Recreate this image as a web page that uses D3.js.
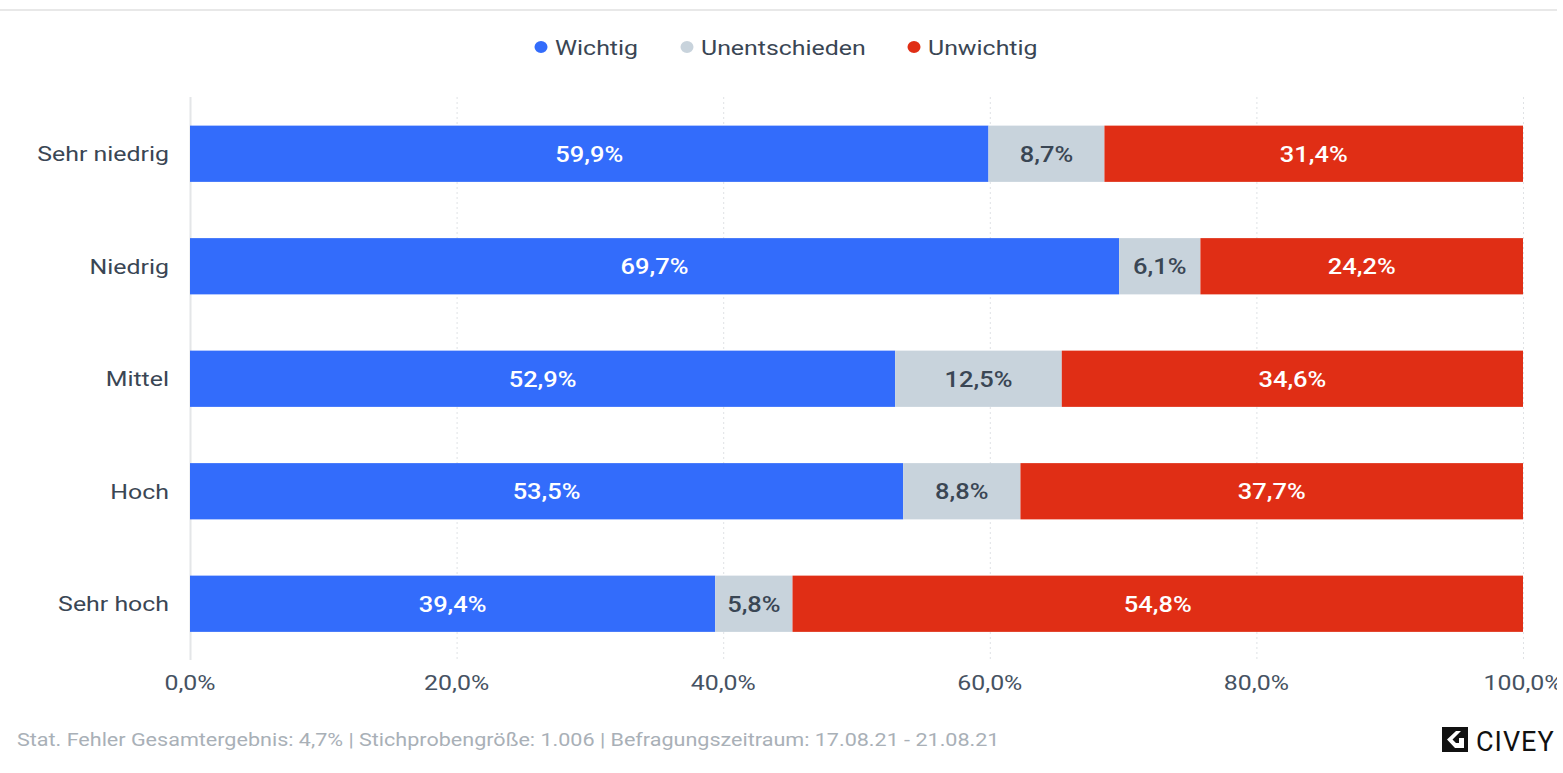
<!DOCTYPE html>
<html>
<head>
<meta charset="utf-8">
<script src="https://cdn.jsdelivr.net/npm/d3@7"></script>
<style>
  body { margin: 0; background: #fff; overflow: hidden; }
  svg { display: block; font-family: Roboto, "Noto Sans", sans-serif; }
</style>
</head>
<body>
<svg id="chart"></svg>
<script>
var categories = ["Sehr niedrig", "Niedrig", "Mittel", "Hoch", "Sehr hoch"];
var seriesNames = ["Wichtig", "Unentschieden", "Unwichtig"];
var wichtig = [59.9, 69.7, 52.9, 53.5, 39.4];
var unentschieden = [8.7, 6.1, 12.5, 8.8, 5.8];
var unwichtig = [31.4, 24.2, 34.6, 37.7, 54.8];
var xTicks = [0, 20, 40, 60, 80, 100];

var colors = ["#336cfb", "#c8d3dc", "#e02e15"];
var labelColors = ["#ffffff", "#3a4654", "#ffffff"];
var sx = 1.185; // text is a bit wide in the original

var svgWidth = 1557, svgHeight = 773;
var svg = d3.select("#chart").attr("width", svgWidth).attr("height", svgHeight);

var fmt = function(v) { return v.toFixed(1).replace(".", ",") + "%"; };
function place(x, y) { return "translate(" + x + "," + y + ") scale(" + sx + ",1)"; }

// top rule
svg.append("rect").attr("x", 0).attr("y", 9).attr("width", 1563).attr("height", 2).attr("fill", "#e8e8e8");

var x = d3.scaleLinear().domain([0, 100]).range([190, 1523]);
var y = d3.scaleBand().domain(categories).range([97.5, 660]).paddingInner(0.5).paddingOuter(0.25);

// grid
svg.selectAll(".grid").data(xTicks).enter().append("line")
  .attr("x1", function(d) { return x(d) + 0.5; })
  .attr("x2", function(d) { return x(d) + 0.5; })
  .attr("y1", 97).attr("y2", 660)
  .attr("stroke", function(d) { return d === 0 ? "#e4e6e8" : "#dfe2e5"; })
  .attr("stroke-width", function(d) { return d === 0 ? 2 : 1; })
  .attr("stroke-dasharray", function(d) { return d === 0 ? null : "2,3"; });

var rows = categories.map(function(c, i) {
  return { cat: c, vals: [wichtig[i], unentschieden[i], unwichtig[i]] };
});

var segs = [];
rows.forEach(function(r) {
  var acc = 0;
  r.vals.forEach(function(v, k) {
    segs.push({ cat: r.cat, k: k, v: v, x0: acc, x1: acc + v });
    acc += v;
  });
});

svg.selectAll(".seg").data(segs).enter().append("rect")
  .attr("x", function(d) { return x(d.x0); })
  .attr("width", function(d) { return x(d.x1) - x(d.x0); })
  .attr("y", function(d) { return y(d.cat); })
  .attr("height", y.bandwidth())
  .attr("fill", function(d) { return colors[d.k]; });

svg.selectAll(".lbl").data(segs).enter().append("text")
  .attr("transform", function(d) { return place((x(d.x0) + x(d.x1)) / 2, y(d.cat) + y.bandwidth() / 2); })
  .attr("dy", "0.36em")
  .attr("text-anchor", "middle")
  .attr("font-size", 21.5).attr("font-weight", 500)
  .attr("fill", function(d) { return labelColors[d.k]; })
  .text(function(d) { return fmt(d.v); });

// y axis labels
svg.selectAll(".ylab").data(categories).enter().append("text")
  .attr("transform", function(d) { return place(169, y(d) + y.bandwidth() / 2); })
  .attr("dy", "0.36em")
  .attr("text-anchor", "end")
  .attr("font-size", 21).attr("fill", "#3a4654")
  .text(function(d) { return d; });

// x axis labels
svg.selectAll(".xlab").data(xTicks).enter().append("text")
  .attr("transform", function(d) { return place(x(d), 690); })
  .attr("text-anchor", "middle")
  .attr("font-size", 21).attr("fill", "#465262")
  .text(function(d) { return fmt(d); });

// legend
var legendX = [541, 687, 914];
seriesNames.forEach(function(n, i) {
  var g = svg.append("g");
  g.append("ellipse").attr("cx", legendX[i]).attr("cy", 47).attr("rx", 6.5).attr("ry", 6).attr("fill", colors[i]);
  g.append("text").attr("transform", place(legendX[i] + 14, 47)).attr("dy", "0.36em")
    .attr("font-size", 21).attr("fill", "#3a4654").text(n);
});

// footer
svg.append("text").attr("transform", place(17, 746)).attr("font-size", 18.2).attr("fill", "#a9b0b7")
  .text("Stat. Fehler Gesamtergebnis: 4,7% | Stichprobengröße: 1.006 | Befragungszeitraum: 17.08.21 - 21.08.21");

// logo
var logo = svg.append("g").attr("transform", "translate(1442,727)");
logo.append("rect").attr("width", 26).attr("height", 25).attr("fill", "#111");
logo.append("path").attr("d", "M14,4 L5,12.5 L13,21 L22,21 L22,11 L17,11 L17,16 L14,16 L10.5,12.5 L19,4 Z").attr("fill", "#fff");
svg.append("text").attr("x", 1476).attr("y", 751).attr("font-size", 27).attr("fill", "#111")
  .attr("font-family", "Roboto, sans-serif").attr("letter-spacing", 1).text("CIVEY");
</script>
</body>
</html>
